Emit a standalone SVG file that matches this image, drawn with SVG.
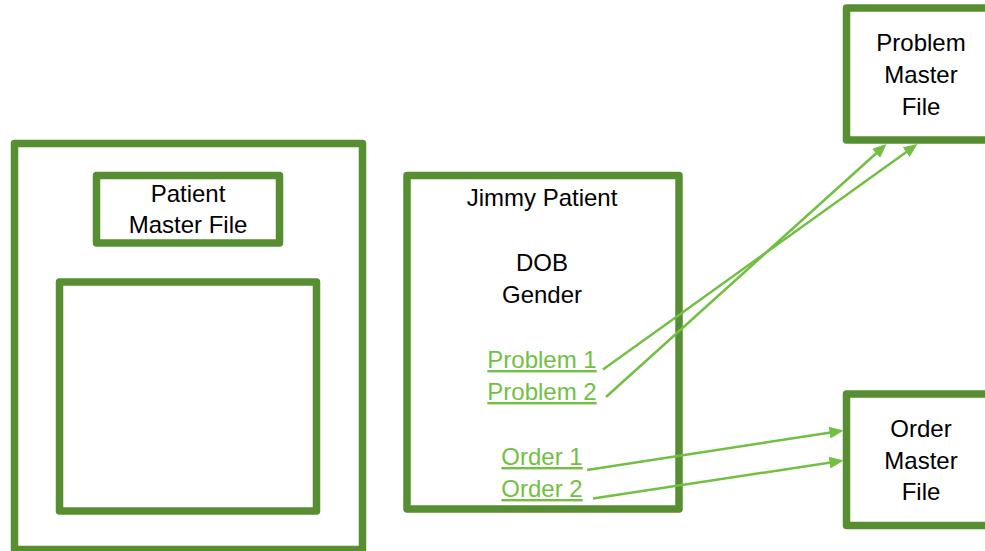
<svg xmlns="http://www.w3.org/2000/svg" width="985" height="551" viewBox="0 0 985 551">
  <defs>
    <style>
      .box { fill: #ffffff; stroke: #568E31; stroke-width: 7.5; stroke-linejoin: round; }
      .inner { fill: none; stroke: #568E31; stroke-width: 7.5; stroke-linejoin: round; }
      .t { font-family: "Liberation Sans", Arial, sans-serif; font-size: 24px; fill: #000000; text-anchor: middle; }
      .lnk { font-family: "Liberation Sans", Arial, sans-serif; font-size: 24px; fill: #72BF44; text-anchor: middle; text-decoration: underline; }
      .conn { stroke: #72BF44; stroke-width: 2.5; fill: none; marker-end: url(#arrow); }
    </style>
    <marker id="arrow" markerUnits="userSpaceOnUse" markerWidth="15" markerHeight="13" refX="11" refY="6" orient="auto">
      <path d="M0,0 L14,6 L0,12 z" fill="#72BF44"/>
    </marker>
  </defs>
  <rect width="985" height="551" fill="#ffffff"/>

  <g id="patient-container">
    <rect class="box" x="14.5" y="143.5" width="348" height="406"/>
  </g>
  <g id="patient-master-file">
    <rect class="box" x="96.5" y="175.5" width="183" height="67.5"/>
    <text class="t" x="188" y="202">Patient</text>
    <text class="t" x="188" y="233">Master File</text>
  </g>
  <g id="inner-box">
    <rect class="inner" x="59.5" y="282" width="257" height="229"/>
  </g>
  <g id="jimmy-patient">
    <rect class="box" x="407" y="175.5" width="272" height="333.5"/>
    <text class="t" x="542" y="206">Jimmy Patient</text>
    <text class="t" x="542" y="271">DOB</text>
    <text class="t" x="542" y="303">Gender</text>
    <text class="lnk" x="542" y="368">Problem 1</text>
    <text class="lnk" x="542" y="400">Problem 2</text>
    <text class="lnk" x="542" y="465">Order 1</text>
    <text class="lnk" x="542" y="497">Order 2</text>
  </g>
  <g id="problem-master-file">
    <rect class="box" x="846.5" y="8" width="149" height="132"/>
    <text class="t" x="921" y="51">Problem</text>
    <text class="t" x="921" y="83">Master</text>
    <text class="t" x="921" y="115">File</text>
  </g>
  <g id="order-master-file">
    <rect class="box" x="846.5" y="394" width="149" height="131.5"/>
    <text class="t" x="921" y="437">Order</text>
    <text class="t" x="921" y="469">Master</text>
    <text class="t" x="921" y="500">File</text>
  </g>

  <g id="connectors">
    <line class="conn" x1="603" y1="369.5" x2="915.1" y2="145.7"/>
    <line class="conn" x1="606" y1="397" x2="884.3" y2="146"/>
    <line class="conn" x1="587" y1="470" x2="840.5" y2="431"/>
    <line class="conn" x1="593" y1="498.5" x2="840.5" y2="461"/>
  </g>
</svg>
